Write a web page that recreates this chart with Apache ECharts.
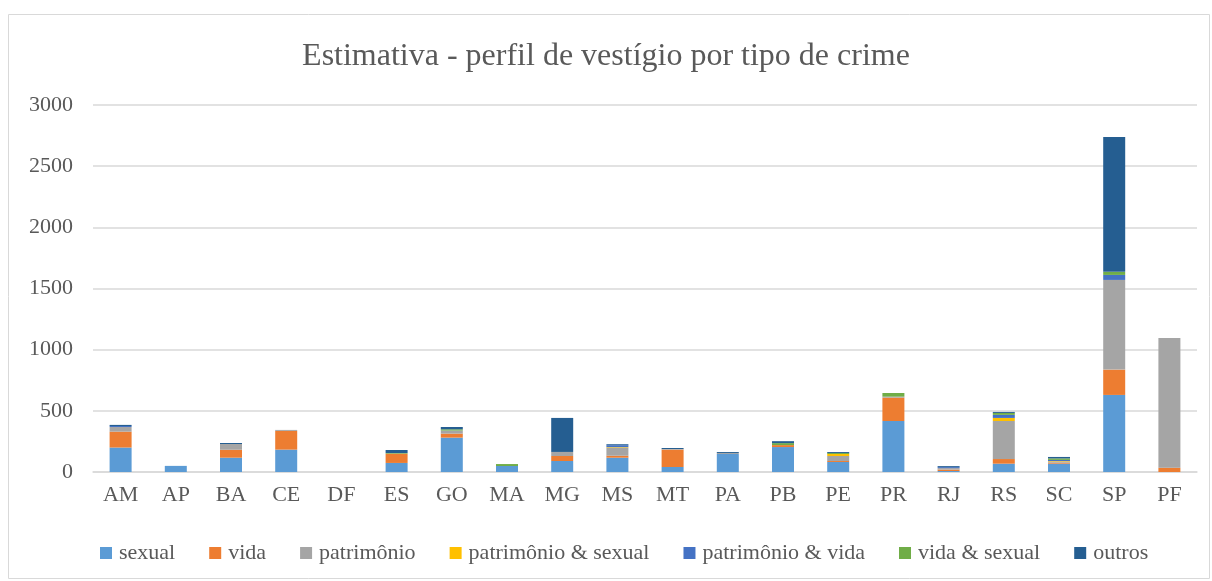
<!DOCTYPE html>
<html>
<head>
<meta charset="utf-8">
<script src="https://cdn.jsdelivr.net/npm/echarts@6/dist/echarts.min.js"></script>
<style>
  html, body { margin: 0; padding: 0; background: #fff; }
  #chart { width: 1212px; height: 581px; }
</style>
</head>
<body>
<div id="chart"></div>
<script>
// estados
const states = ["AM", "AP", "BA", "CE", "DF", "ES", "GO", "MA", "MG", "MS",
  "MT", "PA", "PB", "PE", "PR", "RJ", "RS", "SC", "SP", "PF"];

// valores por tipo de crime
const sexual      = [200, 50, 117, 183, 0, 74, 281, 49, 90, 117, 41, 147, 204, 82, 417, 8, 68, 68, 630, 0];
const vida        = [130, 0, 65, 153, 0, 76, 33, 0, 41, 16, 142, 0, 16, 8, 191, 12, 38, 8, 207, 35];
const patrimonio  = [38, 0, 47, 8, 0, 0, 25, 0, 33, 65, 5, 8, 0, 41, 8, 12, 311, 8, 733, 1060];
const patSexual   = [0, 0, 0, 0, 0, 0, 0, 0, 0, 5, 0, 0, 0, 16, 0, 0, 25, 5, 0, 0];
const patVida     = [8, 0, 0, 0, 0, 0, 0, 0, 0, 16, 0, 0, 0, 0, 0, 8, 25, 10, 41, 0];
const vidaSexual  = [0, 0, 0, 0, 0, 5, 10, 16, 0, 0, 0, 0, 16, 8, 30, 0, 16, 12, 25, 0];
const outros      = [9, 0, 8, 0, 0, 25, 19, 0, 278, 8, 8, 8, 16, 8, 0, 8, 8, 12, 1103, 0];

const yTicks = [0, 500, 1000, 1500, 2000, 2500, 3000];

const serif = "Liberation Serif";
const textColor = "#595959";

const seriesDefs = [
  { name: "sexual", data: sexual, color: "#5B9BD5" },
  { name: "vida", data: vida, color: "#ED7D31" },
  { name: "patrimônio", data: patrimonio, color: "#A5A5A5" },
  { name: "patrimônio & sexual", data: patSexual, color: "#FFC000" },
  { name: "patrimônio & vida", data: patVida, color: "#4472C4" },
  { name: "vida & sexual", data: vidaSexual, color: "#70AD47" },
  { name: "outros", data: outros, color: "#255E91" },
];

const myChart = echarts.init(document.getElementById("chart"));
myChart.setOption({
  animation: false,
  graphic: [{
    type: "rect",
    shape: { x: 8.5, y: 14.5, width: 1201, height: 564 },
    style: { fill: "none", stroke: "#d9d9d9", lineWidth: 1 },
    silent: true,
  }],
  title: {
    text: "Estimativa - perfil de vestígio por tipo de crime",
    left: "center",
    top: 36,
    textStyle: { fontFamily: serif, fontSize: 32, fontWeight: "normal", color: textColor },
  },
  legend: {
    bottom: 12,
    left: 95,
    itemWidth: 12,
    itemHeight: 12,
    itemGap: 34,
    icon: "rect",
    textStyle: { fontFamily: serif, fontSize: 22, color: textColor, padding: [0, 0, 0, 2] },
  },
  grid: { left: 93, right: 15, top: 105, bottom: 109 },
  xAxis: {
    type: "category",
    data: states,
    axisLine: { lineStyle: { color: "#d9d9d9", width: 1.5 } },
    axisTick: { show: false },
    axisLabel: { fontFamily: serif, fontSize: 22, color: textColor, margin: 12 },
  },
  yAxis: {
    type: "value",
    min: yTicks[0],
    max: yTicks[yTicks.length - 1],
    interval: 500,
    axisLine: { show: false },
    axisTick: { show: false },
    axisLabel: {
      fontFamily: serif, fontSize: 22, color: textColor, margin: 20,
      formatter: (v) => String(v),
    },
    splitLine: { lineStyle: { color: "#d9d9d9", width: 1.5 } },
  },
  series: seriesDefs.map((s) => ({
    name: s.name,
    type: "bar",
    stack: "total",
    barWidth: 22,
    data: s.data,
    itemStyle: { color: s.color },
  })),
});
</script>
</body>
</html>
